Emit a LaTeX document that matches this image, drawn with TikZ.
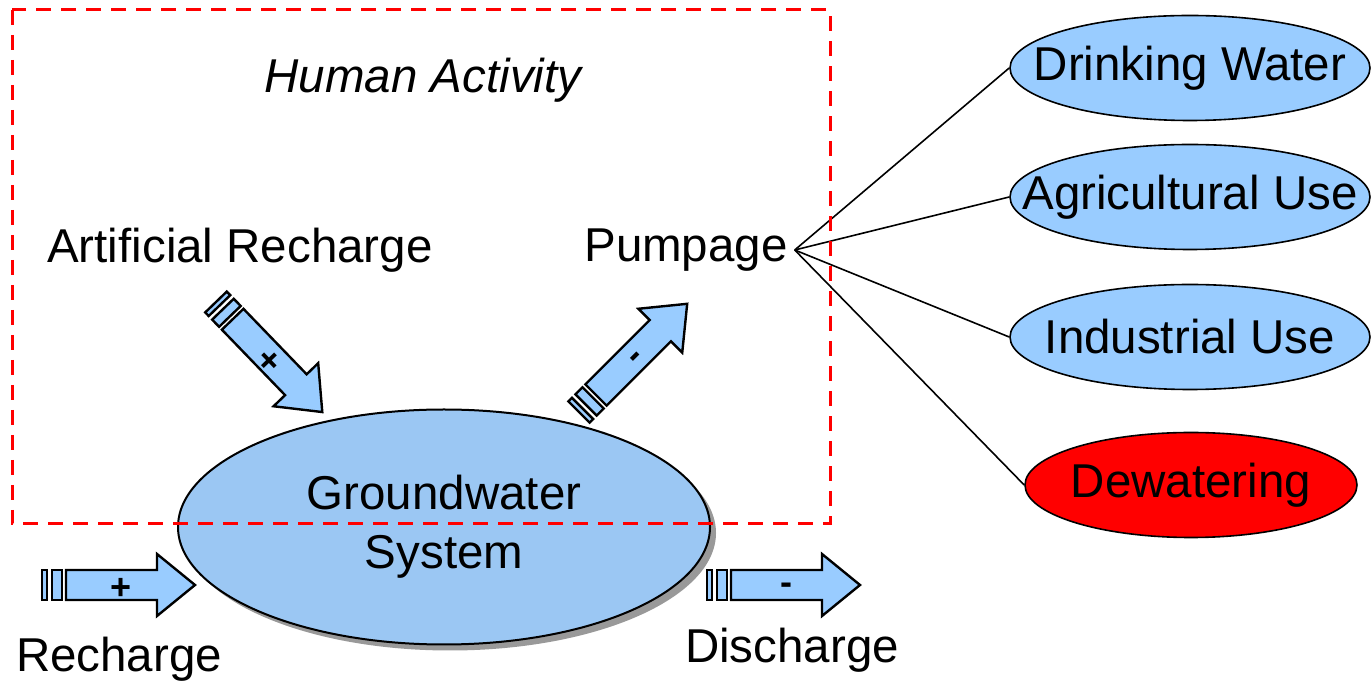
\documentclass[tikz,border=0pt]{standalone}
\usepackage{fontspec}
\setmainfont{Liberation Sans}
\usetikzlibrary{shapes.geometric,shadows}
\definecolor{waterblue}{RGB}{153,204,255}
\definecolor{gwblue}{RGB}{155,199,243}
\tikzset{
  flowarrow/.pic={
    \draw[arrowbody] (0,-15) rectangle (5,15);
    \draw[arrowbody] (10,-15) rectangle (20,15);
    \draw[arrowbody] (24,-15) -- (115,-15) -- (115,-31) -- (153,0) -- (115,31) -- (115,15) -- (24,15) -- cycle;
    \node[signlabel] at (79,4) {#1};
  }
}
\begin{document}
\begin{tikzpicture}[x=0.5pt, y=-0.5pt,
  every node/.style={font=\fontsize{23.75}{29.5}\selectfont},
  arrowbody/.style={draw, line width=1.2pt, fill=waterblue, line join=miter},
  signlabel/.style={font=\bfseries\fontsize{18}{18}\selectfont, transform shape, inner sep=0pt},
  useoval/.style={ellipse, draw, line width=0.8pt, fill=waterblue, minimum width=180pt, minimum height=52.5pt, inner sep=0pt}]
  \useasboundingbox (0,0) rectangle (1371,683);
  \node (human) at (423,80) {\itshape Human Activity};
  \node (artificial) at (240,250) {Artificial Recharge};
  \node (pumpage) at (686,250) {Pumpage};
  \node (recharge) at (119,659) {Recharge};
  \node (discharge) at (792,650) {Discharge};
  \node[useoval] (drinking) at (1190,68) {\makebox[0pt]{Drinking Water}};
  \node[useoval] (agri) at (1190,197) {\makebox[0pt]{Agricultural Use}};
  \node[useoval] (industrial) at (1190,337) {\makebox[0pt]{Industrial Use}};
  \node[useoval, fill=red, minimum width=166pt] (dewatering) at (1191,485) {\makebox[0pt]{Dewatering}};
  \foreach \u in {drinking,agri,industrial,dewatering}
    \draw[line width=0.8pt] (pumpage.east) -- (\u.west);
  \node[ellipse, draw, line width=1pt, fill=gwblue, minimum width=266pt, minimum height=117.5pt, align=center,
    drop shadow={shadow xshift=3pt, shadow yshift=-3pt, fill=gray!80, opacity=1}] (gw) at (444,527) {Groundwater\\System};
  \pic at (42,585) {flowarrow={+}};
  \pic at (707,585) {flowarrow={-}};
  \pic[rotate=-46] at (216,302) {flowarrow={+}};
  \pic[rotate=45] at (579,412) {flowarrow={-}};
  \draw[red, line width=1.5pt, dash pattern=on 7.5pt off 5pt] (12,10) rectangle (830,524);
\end{tikzpicture}
\end{document}
